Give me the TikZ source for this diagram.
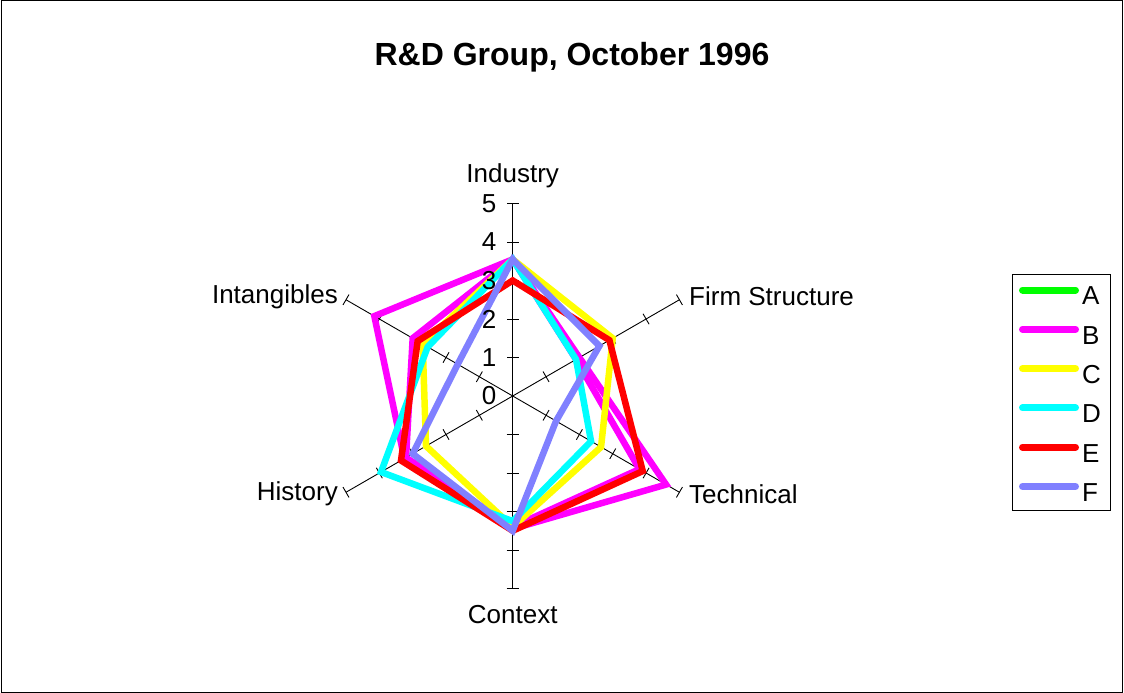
\documentclass[tikz,border=0pt]{standalone}
\usepackage{fontspec}
\setmainfont{Liberation Sans}
\usepackage{tikz}

\definecolor{serA}{RGB}{0,255,0}
\definecolor{serB}{RGB}{255,0,255}
\definecolor{serC}{RGB}{255,255,0}
\definecolor{serD}{RGB}{0,255,255}
\definecolor{serE}{RGB}{255,0,0}
\definecolor{serF}{RGB}{128,128,255}

% one closed line over the six axes
\newcommand{\radarline}[7]{%
  \draw[#1] (90:#2) -- (30:#3) -- (-30:#4) -- (-90:#5) -- (210:#6) -- (150:#7) -- cycle;}

\begin{document}
\begin{tikzpicture}[x=1pt,y=-1pt,
    series/.style={line width=6.5pt, line join=miter},
    keyline/.style={line width=7pt, line cap=round},
    axis/.style={line width=0.9pt},
    lbl/.style={font=\fontsize{26}{30}\selectfont, inner sep=0pt}]
    \useasboundingbox (0,0) rectangle (1124,693);
    \draw[line width=1pt] (1,1) rectangle (1122,692);

    \node[font=\fontsize{32}{38}\selectfont\bfseries] (title) at (572,57) {R\&D Group, October 1996};

    \begin{scope}[shift={(512.7,396)}, x=38.5pt, y=38.5pt]
    \foreach \a in {90,30,-30,-90,-150,150} {
        \draw[axis] (0,0) -- (\a:5);
        \foreach \r in {1,...,5}
            \draw[axis, rotate=\a] (\r,-0.156) -- (\r,0.156);
    }

    \radarline{series, draw=serB}{3.55}{2.0}{4.6}{3.45}{3.25}{4.15}
    \radarline{series, draw=serB}{3.55}{1.9}{3.8}{3.4}{3.2}{3.0}
    \radarline{series, draw=serC}{3.55}{3.0}{2.65}{3.4}{2.6}{2.7}
    \radarline{series, draw=serD}{3.55}{1.9}{2.35}{3.25}{3.95}{2.55}
    \radarline{series, draw=serE}{3.0}{2.9}{3.9}{3.5}{3.35}{2.85}
    \radarline{series, draw=serF}{3.55}{2.6}{1.3}{3.5}{3.0}{1.65}

    \foreach \r in {0,...,5}
        \node[lbl, anchor=east] (num\r) at (-0.42,\r) {\r};
    \end{scope}

    \node[lbl] (industry) at (512.7,176) {Industry};
    \node[lbl, anchor=west] (firm) at (689,296) {Firm Structure};
    \node[lbl, anchor=west] (technical) at (689,494) {Technical};
    \node[lbl] (context) at (512.7,615) {Context};
    \node[lbl, anchor=east] (history) at (338,494) {History};
    \node[lbl, anchor=east] (intangibles) at (338,297) {Intangibles};

    % legend
    \draw[line width=1pt] (1012.3,274.3) rectangle (1110.7,510.7);
    \foreach \k [count=\i from 0] in {A,B,C,D,E,F} {
        \pgfmathsetmacro{\ky}{290+39.3*\i}
        \draw[keyline, draw=ser\k] (1022.5,\ky) -- (1075.5,\ky);
        \node[lbl, anchor=west] (key\k) at (1082,\ky+6) {\k};
    }
\end{tikzpicture}
\end{document}
